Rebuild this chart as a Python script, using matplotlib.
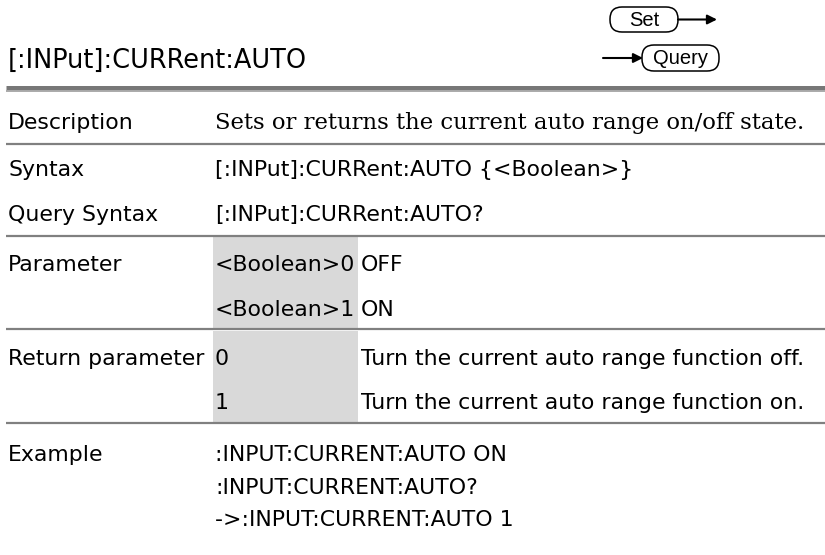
import matplotlib.pyplot as plt
from matplotlib.patches import FancyBboxPatch, Rectangle

# page content
title = "[:INPut]:CURRent:AUTO"
row_labels = ["Description", "Syntax", "Query Syntax", "Parameter", "Return parameter", "Example"]
description = "Sets or returns the current auto range on/off state."
syntax = "[:INPut]:CURRent:AUTO {<Boolean>}"
query_syntax = "[:INPut]:CURRent:AUTO?"
param_names = ["<Boolean>0", "<Boolean>1"]
param_desc = ["OFF", "ON"]
return_values = ["0", "1"]
return_desc = ["Turn the current auto range function off.",
               "Turn the current auto range function on."]
example_lines = [":INPUT:CURRENT:AUTO ON",
                 ":INPUT:CURRENT:AUTO?",
                 "->:INPUT:CURRENT:AUTO 1"]

SANS = "DejaVu Sans"
SERIF = "DejaVu Serif"
GRAY_LINE = "#808080"
SHADE = "#d9d9d9"

fig = plt.figure(figsize=(8.25, 5.55), dpi=100)
ax = fig.add_axes([0, 0, 1, 1])
ax.set_xlim(0, 825)
ax.set_ylim(555, 0)
ax.axis("off")
renderer = fig.canvas.get_renderer()


def fitted_size(text, family, target_px, base=12):
    # scale font so the string spans target_px pixels
    t = ax.text(0, 0, text, fontsize=base, family=family)
    w = t.get_window_extent(renderer=renderer).width
    t.remove()
    return base * target_px / w


body_fs = fitted_size(return_desc[1], SANS, 440)
serif_fs = fitted_size(description, SERIF, 590)
title_fs = fitted_size(title, SANS, 300)

x_label, x_val, x_third = 8, 215, 361
line_x0 = 6

# header
ax.text(x_label, 61, title, fontsize=title_fs, family=SANS, va="center")
ax.plot([line_x0, 825], [88, 88], color="#777777", lw=3.6, solid_capstyle="butt")
ax.plot([line_x0, 825], [91, 91], color="#aaaaaa", lw=1.4, solid_capstyle="butt")

# Set / Query buttons
for label, (x0, y0, w, h) in [("Set", (610, 7, 68, 25)), ("Query", (642, 45, 77, 26))]:
    ax.add_patch(FancyBboxPatch((x0, y0), w, h, boxstyle="round,pad=0,rounding_size=12",
                                fc="white", ec="black", lw=1.1))
    ax.text(x0 + w / 2, y0 + h / 2 + 1, label, fontsize=14.5, family="Liberation Sans",
            ha="center", va="center")
arrow = dict(arrowstyle="-|>", color="black", lw=1.5, mutation_scale=14, shrinkA=0, shrinkB=0)
ax.annotate("", xy=(717, 19.5), xytext=(678, 19.5), arrowprops=arrow)
ax.annotate("", xy=(643, 58), xytext=(603, 58), arrowprops=arrow)

# shaded value cells
ax.add_patch(Rectangle((213, 237), 145, 91, fc=SHADE, ec="none"))
ax.add_patch(Rectangle((213, 330.5), 145, 92, fc=SHADE, ec="none"))

# separators
for y in [144, 236, 329, 423]:
    ax.plot([line_x0, 825], [y, y], color=GRAY_LINE, lw=1.6, solid_capstyle="butt")


def put(x, y, s, family=SANS, fs=None):
    ax.text(x, y, s, fontsize=fs or body_fs, family=family, va="center_baseline")


put(x_label, 121, row_labels[0])
put(x_val, 121, description, SERIF, serif_fs)
put(x_label, 168, row_labels[1])
put(x_val, 168, syntax)
put(x_label, 213, row_labels[2])
put(x_val, 213, query_syntax)

row_y = [263, 308]
put(x_label, row_y[0], row_labels[3])
for y, n, d in zip(row_y, param_names, param_desc):
    put(x_val, y, n)
    put(x_third, y, d)

row_y = [357, 401]
put(x_label, row_y[0], row_labels[4])
for y, v, d in zip(row_y, return_values, return_desc):
    put(x_val, y, v)
    put(x_third, y, d)

put(x_label, 453, row_labels[5])
for y, s in zip([453, 486, 518], example_lines):
    put(x_val, y, s)

fig.savefig("out.png", dpi=100)
